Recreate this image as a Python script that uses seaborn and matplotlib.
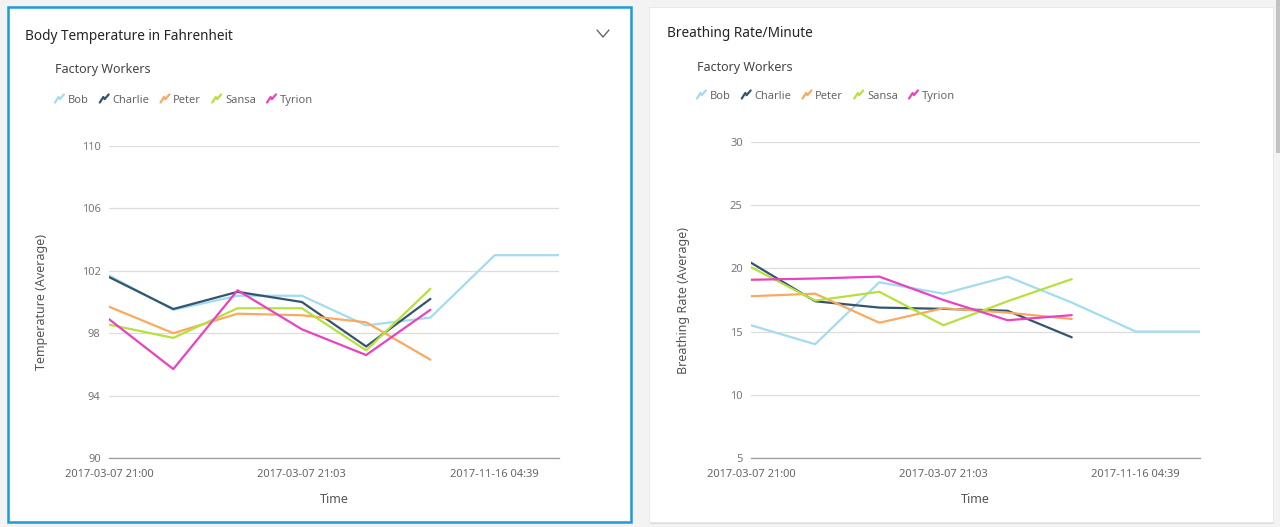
import matplotlib
matplotlib.use("Agg")
import matplotlib.pyplot as plt
from matplotlib.lines import Line2D
from matplotlib.patches import Rectangle
from matplotlib.legend_handler import HandlerBase
import seaborn as sns
import pandas as pd
import numpy as np

# ---------------- data ----------------
workers = ["Bob", "Charlie", "Peter", "Sansa", "Tyrion"]
colors = ["#a3dcef", "#33566e", "#f9aa62", "#b8e03c", "#e843c0"]
tick_labels = ["2017-03-07 21:00", "2017-03-07 21:03", "2017-11-16 04:39"]
tick_pos = [0, 3, 6]

temp_bob = [101.7, 99.5, 100.4, 100.4, 98.5, 99.0, 103.0, 103.0]
temp_charlie = [101.6, 99.55, 100.65, 100.0, 97.15, 100.2]
temp_peter = [99.7, 98.0, 99.25, 99.15, 98.7, 96.3]
temp_sansa = [98.55, 97.7, 99.6, 99.6, 96.9, 100.85]
temp_tyrion = [98.9, 95.7, 100.75, 98.25, 96.6, 99.5]

breath_bob = [15.5, 14.0, 18.9, 18.0, 19.35, 17.3, 15.0, 15.0]
breath_charlie = [20.45, 17.4, 16.9, 16.8, 16.65, 14.55]
breath_peter = [17.8, 18.0, 15.7, 16.85, 16.5, 16.0]
breath_sansa = [20.1, 17.45, 18.15, 15.5, 17.4, 19.15]
breath_tyrion = [19.1, 19.2, 19.35, 17.5, 15.9, 16.3]

temp_ticks = [90, 94, 98, 102, 106, 110]
breath_ticks = [5, 10, 15, 20, 25, 30]


def long_df(series):
    rows = []
    for name, vals in zip(workers, series):
        for i, v in enumerate(vals):
            rows.append({"Worker": name, "idx": i, "val": v})
    return pd.DataFrame(rows)


temp_df = long_df([temp_bob, temp_charlie, temp_peter, temp_sansa, temp_tyrion])
breath_df = long_df([breath_bob, breath_charlie, breath_peter, breath_sansa, breath_tyrion])

# ---------------- style ----------------
sns.set_theme(style="white")
FONT = ["Noto Sans", "DejaVu Sans"]
plt.rcParams["font.family"] = FONT

W, H = 1280, 527
fig = plt.figure(figsize=(12.8, 5.27), dpi=100)
fig.patch.set_facecolor("#f3f3f3")


def fx(px):
    return px / W


def fy(py):
    return 1 - py / H


# panels
fig.add_artist(Rectangle((fx(8), fy(522)), fx(623), 515 / H, transform=fig.transFigure,
                         facecolor="white", edgecolor="#1d9bd6", linewidth=1.8, zorder=0))
fig.add_artist(Rectangle((fx(650), fy(524)), fx(624), 515 / H, transform=fig.transFigure,
                         facecolor="#dcdcdc", edgecolor="none", zorder=0))
fig.add_artist(Rectangle((fx(649), fy(522)), fx(624), 515 / H, transform=fig.transFigure,
                         facecolor="white", edgecolor="#e6e6e6", linewidth=0.6, zorder=0))
# scrollbar
fig.add_artist(Rectangle((fx(1276), fy(153)), fx(4), 153 / H, transform=fig.transFigure,
                         facecolor="#c2c2c2", edgecolor="none", zorder=0))
# chevron
fig.add_artist(Line2D([fx(597), fx(603), fx(609)], [fy(30), fy(37), fy(30)],
                      transform=fig.transFigure, color="#666666", lw=1.0))


class ZigZag(HandlerBase):
    def create_artists(self, legend, orig_handle, xdescent, ydescent, width, height, fontsize, trans):
        xs = np.array([0.0, 0.4, 0.55, 1.0]) * width - xdescent
        ys = np.array([0.05, 0.7, 0.45, 1.0]) * height - ydescent
        ln = Line2D(xs, ys, color=orig_handle.get_color(), lw=1.6, transform=trans)
        return [ln]


def make_panel(df, rect, ticks, ylabel, title, title_xy, sub_xy, leg_xy, ylab_x):
    ax = fig.add_axes(rect)
    ax.set_facecolor("none")
    sns.lineplot(data=df, x="idx", y="val", hue="Worker", hue_order=workers,
                 palette=colors, sort=False, linewidth=1.6, ax=ax, legend=False)
    ax.set_xlim(0, 7)
    ax.set_ylim(ticks[0], ticks[-1])
    ax.set_yticks(ticks)
    ax.set_yticklabels([str(t) for t in ticks])
    ax.set_xticks(tick_pos)
    ax.set_xticklabels(tick_labels)
    ax.grid(axis="y", color="#dddddd", linewidth=0.9)
    ax.grid(axis="x", visible=False)
    for s in ["left", "right", "top"]:
        ax.spines[s].set_visible(False)
    ax.spines["bottom"].set_color("#9a9a9a")
    ax.spines["bottom"].set_linewidth(0.9)
    ax.tick_params(axis="y", length=0, pad=6, labelsize=8, labelcolor="#777777")
    ax.tick_params(axis="x", direction="in", length=3, width=0.6, color="#9a9a9a",
                   pad=8, labelsize=8, labelcolor="#666666")
    ax.set_xlabel("Time", fontsize=9, color="#555555", labelpad=9)
    ax.set_ylabel("")
    fig.text(fx(ylab_x), rect[1] + rect[3] / 2, ylabel, rotation=90, ha="center",
             va="center", fontsize=9, color="#555555")
    fig.text(fx(title_xy[0]), fy(title_xy[1]), title, fontsize=9.8, color="#252423",
             ha="left", va="center")
    fig.text(fx(sub_xy[0]), fy(sub_xy[1]), "Factory Workers", fontsize=9, color="#444444",
             ha="left", va="center")
    handles = [Line2D([0], [0], color=c) for c in colors]
    leg = fig.legend(handles, workers, loc="center left",
                     bbox_to_anchor=(fx(leg_xy[0]), fy(leg_xy[1])),
                     ncol=5, frameon=False, handler_map={Line2D: ZigZag()},
                     handlelength=0.8, handleheight=0.8, handletextpad=0.35,
                     columnspacing=1.0, fontsize=8, borderaxespad=0, borderpad=0)
    for t in leg.get_texts():
        t.set_color("#666666")
    return ax


make_panel(temp_df, [fx(109), fy(458), fx(559) - fx(109), (458 - 146) / H], temp_ticks,
           "Temperature (Average)", "Body Temperature in Fahrenheit",
           (25, 36), (55, 70), (55, 100), 42)
make_panel(breath_df, [fx(751), fy(458), fx(1200) - fx(751), (458 - 142) / H], breath_ticks,
           "Breathing Rate (Average)", "Breathing Rate/Minute",
           (667, 34), (697, 67), (697, 96), 684)

fig.savefig("out.png", dpi=100, facecolor=fig.get_facecolor())
